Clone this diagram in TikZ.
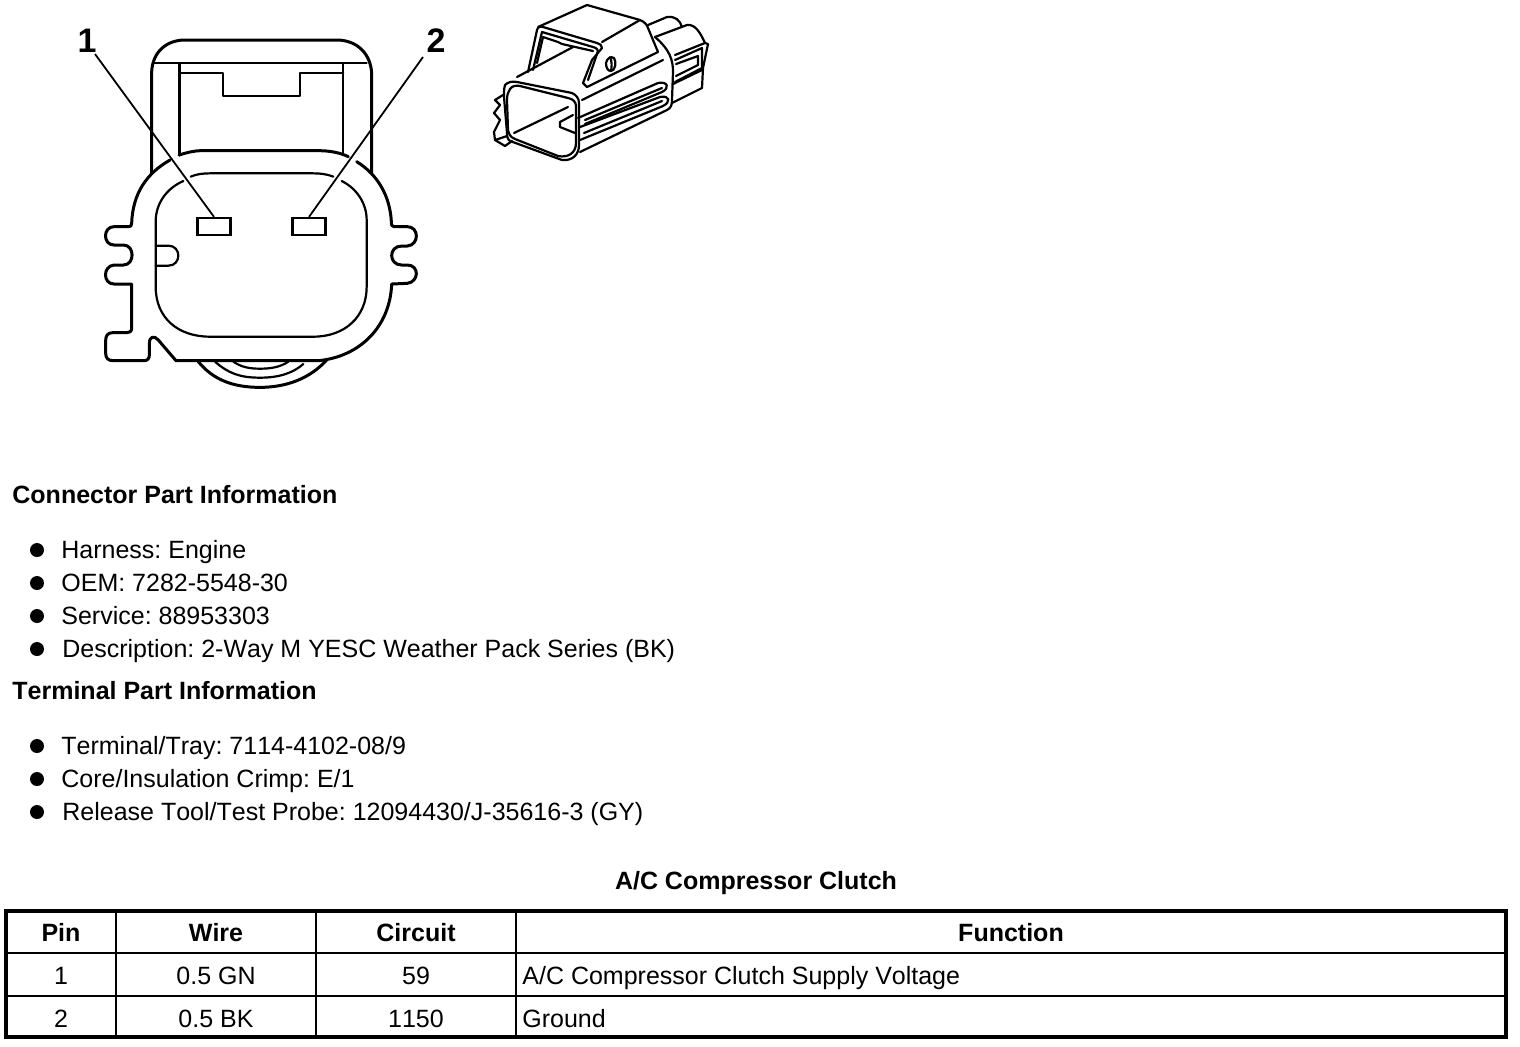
\documentclass[tikz,border=0pt]{standalone}
\usepackage{fontspec}
\setmainfont[Kerning=Off]{Liberation Sans}
\frenchspacing
\tikzset{
 txt/.style={anchor=base west,inner sep=0pt,font=\fontsize{12.5}{15}\selectfont},
 hd/.style={anchor=base west,inner sep=0pt,font=\fontsize{12.5}{15}\selectfont\bfseries},
 cell/.style={anchor=base,inner sep=0pt,font=\fontsize{12.5}{15}\selectfont},
 hcell/.style={anchor=base,inner sep=0pt,font=\fontsize{12.5}{15}\selectfont\bfseries},
 num/.style={anchor=center,inner sep=0pt,font=\fontsize{17}{20}\selectfont\bfseries},
 dot/.style={circle,fill=black,inner sep=0pt,minimum size=7pt},
 pin/.style={draw=black,line width=1.1pt,fill=white,inner sep=0pt,minimum width=16.5pt,minimum height=8.5pt},
 ln/.style={line width=1.1pt,line join=round,line cap=round},
 thk/.style={line width=1.5pt,line join=round,line cap=round},
 lead/.style={line width=0.9pt},
 iso/.style={line width=1.1pt,line join=round,line cap=round},
}
\begin{document}
\begin{tikzpicture}[x=0.5pt,y=-0.5pt]
\useasboundingbox (0,0) rectangle (1520,1046);
% front view
\begin{scope}[shift={(70,10)},x=0.16667pt,y=-0.16667pt]
 \draw[thk] (245,490) -- (245,185) .. controls (248,125) and (290,90) .. (345,90) -- (800,90) .. controls (860,90) and (902,130) .. (905,190) -- (905,490);
 \draw[ln] (252,160) -- (890,160);
 \draw[thk] (327,160) -- (327,435);
 \draw[ln] (820,160) -- (820,435);
 \draw[ln] (330,190) -- (458,190) -- (458,257) -- (690,257) -- (690,190) -- (820,190);
 \draw[thk] (327,435) .. controls (350,428) and (370,422) .. (395,422) -- (745,422) .. controls (780,422) and (810,428) .. (835,440);
 % bottom round part
 \draw[thk] (385,1055) .. controls (430,1110) and (490,1132) .. (570,1132) .. controls (650,1132) and (720,1105) .. (770,1050);
 \draw[ln] (435,1055) .. controls (475,1090) and (510,1103) .. (570,1103) .. controls (630,1103) and (670,1088) .. (700,1062);
 \draw[ln] (490,1055) .. controls (515,1072) and (540,1076) .. (570,1076) .. controls (600,1076) and (630,1072) .. (655,1055);
 % flange
 \draw[thk] (300,450) .. controls (230,490) and (188,550) .. (185,640)
   .. controls (185,648) and (182,650) .. (175,650) -- (132,650)
   .. controls (98,650) and (98,705) .. (132,705) -- (160,705)
   .. controls (195,705) and (195,765) .. (160,765) -- (132,765)
   .. controls (98,768) and (98,822) .. (132,822) -- (185,822) -- (185,955)
   .. controls (185,965) and (178,968) .. (170,968) -- (128,968)
   .. controls (112,968) and (107,978) .. (107,992) -- (107,1030)
   .. controls (107,1045) and (115,1052) .. (130,1052) -- (222,1052)
   .. controls (233,1052) and (238,1045) .. (238,1035) -- (238,1000)
   .. controls (238,980) and (252,975) .. (265,990) -- (318,1052) -- (745,1052)
   .. controls (870,1040) and (960,950) .. (965,822) -- (1012,820)
   .. controls (1048,815) and (1048,765) .. (1012,765) -- (995,765)
   .. controls (955,765) and (955,708) .. (995,708) -- (1012,708)
   .. controls (1048,705) and (1048,650) .. (1012,650) -- (972,650)
   .. controls (966,650) and (964,645) .. (964,635)
   .. controls (960,560) and (925,495) .. (860,455);
 % inner
 \draw[ln] (340,513) .. controls (290,535) and (257,580) .. (257,635) -- (257,830)
   .. controls (257,925) and (325,980) .. (420,980) -- (730,980)
   .. controls (825,980) and (890,920) .. (890,830) -- (890,630)
   .. controls (890,580) and (860,535) .. (815,513);
 \draw[ln] (362,500) .. controls (380,492) and (400,490) .. (420,490) -- (730,490) .. controls (750,490) and (770,492) .. (790,500);
 \draw[ln] (257,707) -- (295,707) .. controls (335,707) and (335,767) .. (295,767) -- (257,767);
\end{scope}
\node[pin] (p1) at (214,226.5) {};
\node[pin] (p2) at (309,226.5) {};
\node[num] (l1) at (87,41) {1};
\node[num] (l2) at (436,41) {2};
\coordinate (a1) at (95,54);
\coordinate (a2) at (423,57);
\draw[lead] (a1) -- (p1.north);
\draw[lead] (a2) -- (p2.north);
% isometric view (reference pixels)
% top housing
\draw[iso] (538,27) -- (587,5) -- (640,20) .. controls (645,22) and (647,25) .. (648,28) -- (658,52) -- (587,87) -- (583,83) -- (592,60) -- (602,48) .. controls (602,45) and (600,44) .. (597,43) -- (543,27) .. controls (540,26) and (538,27) .. (537,30) -- (528,72);
\draw[iso] (602,42) -- (640,20);
\draw[iso] (542,32) -- (593,47) .. controls (597,48) and (599,50) .. (597,54) -- (588,80);
\draw[iso] (542,32) -- (533,70);
\draw[iso] (543,37) -- (558,42) -- (562,44) -- (593,51);
\draw[iso] (543,37) -- (537,63);
\draw[iso] (517,77) -- (573,47);
% front face
\draw[iso] (505,85) .. controls (508,82) and (512,81) .. (517,82) -- (572,93) .. controls (576,95) and (579,98) .. (579,103) -- (579,145) .. controls (579,155) and (572,161) .. (562,160) -- (510,141) .. controls (507,139) and (507,135) .. (507,133) -- (504,97) .. controls (504,92) and (504,88) .. (505,85) -- cycle;
\draw[iso] (510,89) .. controls (512,86) and (516,85) .. (520,86) -- (568,98) .. controls (573,99) and (576,102) .. (576,106) -- (576,143) .. controls (576,153) and (568,158) .. (558,156) -- (515,139) .. controls (510,137) and (509,134) .. (508,130) -- (507,100) .. controls (507,95) and (508,92) .. (510,89) -- cycle;
\draw[iso] (514,133) -- (568,107);
\draw[iso] (503,95) -- (495,100) -- (500,105) -- (494,113) -- (500,120) -- (494,132) -- (495,140) -- (507,136);
\draw[iso] (495,140) -- (505,146) -- (512,141);
\draw[iso] (573,115) -- (560,122) -- (560,127) -- (575,133);
% body sides
\draw[iso] (582,100) -- (663,60);
\draw[iso] (580,152) -- (667,110) .. controls (671,108) and (672,105) .. (672,100) -- (673,72) .. controls (673,60) and (670,50) .. (655,37);
\draw[iso] (648,25) -- (667,17) .. controls (675,16) and (680,20) .. (682,27);
\draw[iso] (655,37) -- (687,25) .. controls (695,24) and (700,32) .. (705,43);
% latch
\draw[iso] (675,55) -- (705,43) -- (708,44) -- (703,68) -- (702,88) -- (672,103);
\draw[iso] (675,60) -- (702,48) -- (702,68) -- (675,82);
\draw[iso] (676,64) -- (698,56) -- (698,65) -- (676,76);
\draw[iso] (673,84) -- (702,70);
% ribs
\draw[iso] (578,118) -- (658,83) .. controls (668,81) and (670,88) .. (662,92) -- (585,124);
\draw[iso] (585,120) -- (662,88);
\draw[iso] (580,127) -- (660,97) .. controls (670,95) and (671,102) .. (663,106) -- (580,140);
\draw[iso] (584,133) -- (662,101);
% hole
\draw[iso] (606,63) .. controls (607,58) and (611,56) .. (614,58) .. controls (617,62) and (615,71) .. (611,71) .. controls (608,71) and (606,68) .. (606,63) -- cycle;
\draw[iso] (610,57) .. controls (612,61) and (612,67) .. (611,71);
% text
\node[hd] (t1) at (12,503) {Connector Part Information};
\node[dot] (b1) at (37,550) {};
\node[txt] (s1) at (61,558) {Harness: Engine};
\node[dot] (b2) at (37,583) {};
\node[txt] (s2) at (61,591) {OEM: 7282-5548-30};
\node[dot] (b3) at (37,616) {};
\node[txt] (s3) at (61,624) {Service: 88953303};
\node[dot] (b4) at (37,649) {};
\node[txt] (s4) at (62,657) {Description: 2-Way M YESC Weather Pack Series (BK)};
\node[hd] (t2) at (12,699) {Terminal Part Information};
\node[dot] (b5) at (37,746) {};
\node[txt] (s5) at (61,754) {Terminal/Tray: 7114-4102-08/9};
\node[dot] (b6) at (37,779) {};
\node[txt] (s6) at (61,787) {Core/Insulation Crimp: E/1};
\node[dot] (b7) at (37,812) {};
\node[txt] (s7) at (62,820) {Release Tool/Test Probe: 12094430/J-35616-3 (GY)};
\node[hcell] (tt) at (756,889) {A/C Compressor Clutch};
% table
\draw[line width=0.6pt] (116,911) -- (116,1037) (316,911) -- (316,1037);
\draw[line width=0.8pt] (516,911) -- (516,1037);
\draw[line width=1.1pt] (6,953) -- (1506,953) (6,996) -- (1506,996);
\draw[line width=2pt] (6,911) rectangle (1506,1037);
\node[hcell] at (61,941) {Pin};
\node[hcell] at (216,941) {Wire};
\node[hcell] at (416,941) {Circuit};
\node[hcell] at (1011,941) {Function};
\node[cell] at (61,984) {1};
\node[cell] at (216,984) {0.5 GN};
\node[cell] at (416,984) {59};
\node[txt] at (522,984) {A/C Compressor Clutch Supply Voltage};
\node[cell] at (61,1027) {2};
\node[cell] at (216,1027) {0.5 BK};
\node[cell] at (416,1027) {1150};
\node[txt] at (522,1027) {Ground};
\end{tikzpicture}
\end{document}
